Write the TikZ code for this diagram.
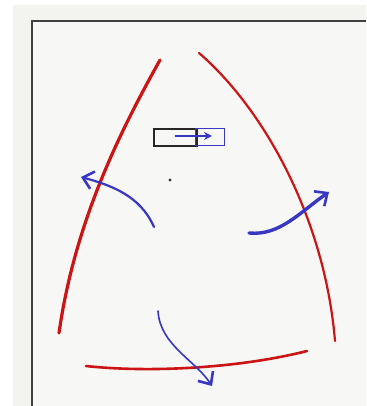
\documentclass[tikz,border=0pt]{standalone}
\usetikzlibrary{arrows.meta}
\definecolor{panel}{RGB}{243,243,240}
\definecolor{inner}{RGB}{247,247,245}
\definecolor{redink}{RGB}{205,20,20}
\definecolor{blueink}{RGB}{55,55,195}
\tikzset{
  redarc/.style={draw=redink, line width=1.3pt, line cap=round},
  bluearr/.style={draw=blueink, line width=1.1pt, line cap=round, -{Straight Barb[length=5pt,width=9pt,line width=1.3pt]}},
}
\begin{document}
\begin{tikzpicture}[x=0.5pt,y=-0.5pt]
\useasboundingbox (0,0) rectangle (366,406);
\fill[white] (0,0) rectangle (366,406);
\fill[panel] (13,5) rectangle (366,406);
\fill[inner] (32,21) rectangle (366,406);
\draw[black!75, line width=1pt] (32,406) -- (32,21) -- (366,21);
% red arcs
\draw[redarc, line width=1.6pt] (160,60) .. controls (122,128) and (75,220) .. (59,333);
\draw[redarc, line width=1.1pt] (199,53) .. controls (265,110) and (325,220) .. (335,341);
\draw[redarc, line width=1.3pt] (86,366) .. controls (150,373) and (240,368) .. (307,351);
% rectangles
\node[draw=black!85, line width=1.1pt, minimum width=21.5pt, minimum height=8.5pt, inner sep=0pt, anchor=north west] (blk) at (153,128) {};
\node[draw=blueink, line width=0.6pt, minimum width=14.5pt, minimum height=8.5pt, inner sep=0pt, anchor=north west] (blu) at (195,128) {};
\coordinate (ra) at (175,136);
\coordinate (rb) at (212,136);
\draw[draw=blueink, line width=0.7pt, -{Stealth[length=4pt,width=4pt]}] (ra) -- (rb);
% dot
\fill[black!80] (170,180) circle (0.8pt);
% blue arrows
\coordinate (l1) at (154,227);
\coordinate (l2) at (81,177);
\draw[bluearr] (l1) .. controls (140,195) and (110,185) .. (l2);
\coordinate (r1) at (249,233);
\coordinate (r2) at (329,192);
\draw[bluearr, line width=1.7pt] (r1) .. controls (280,236) and (300,212) .. (r2);
\coordinate (b1) at (158,311);
\coordinate (b2) at (212,386);
\draw[bluearr, line width=0.8pt] (b1) .. controls (160,345) and (195,360) .. (b2);
\end{tikzpicture}
\end{document}
